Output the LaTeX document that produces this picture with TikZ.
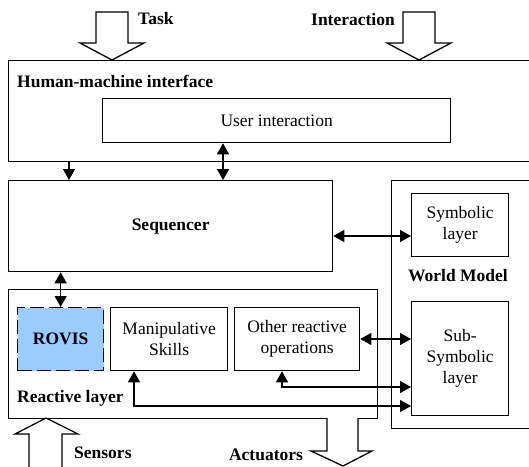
\documentclass[tikz,border=0pt]{standalone}
\usepackage{fontspec}
\setmainfont{Liberation Serif}
\usetikzlibrary{arrows.meta}
\definecolor{rovisblue}{RGB}{153,204,255}
\begin{document}
\begin{tikzpicture}[x=1pt,y=-1pt,
  font=\fontsize{17.5}{21}\selectfont,
  box/.style={draw, line width=1.3pt, anchor=north west, inner sep=0pt, align=center},
  lbl/.style={inner sep=0pt, font=\fontsize{17.5}{21}\selectfont\bfseries},
  conn/.style={line width=1.3pt, -{Triangle[length=11pt,width=12pt]}},
  dbl/.style={line width=1.3pt, {Triangle[length=11pt,width=12pt]}-{Triangle[length=11pt,width=12pt]}},
  blockarrow/.style={draw, fill=white, line width=1.3pt, line join=miter}]
\useasboundingbox (0,0) rectangle (529,466);
\clip (0,0) rectangle (529,466);

% main boxes
\node[box, minimum width=527pt, minimum height=101pt] (hmi) at (8,60) {};
\node[box, minimum width=348pt, minimum height=44pt] (ui) at (102,98) {User interaction};
\node[box, minimum width=324pt, minimum height=91pt, font=\fontsize{17.5}{21}\selectfont\bfseries] (seq) at (8,180) {Sequencer};
\node[box, minimum width=144pt, minimum height=248pt] (wm) at (391,180) {};
\node[box, minimum width=97pt, minimum height=63pt] (sym) at (411,193) {Symbolic\\layer};
\node[box, minimum width=97pt, minimum height=114pt] (sub) at (411,301) {Sub-\\Symbolic\\layer};
\node[box, minimum width=369pt, minimum height=129pt] (react) at (8,289) {};
\node[box, minimum width=86pt, minimum height=63pt, fill=rovisblue, dash pattern=on 14pt off 5pt, font=\fontsize{17.5}{21}\selectfont\bfseries] (rovis) at (17,307) {ROVIS};
\node[box, minimum width=117pt, minimum height=63pt] (manip) at (110,307) {Manipulative\\Skills};
\node[box, minimum width=125pt, minimum height=63pt] (other) at (234,307) {Other reactive\\operations};

% labels
\node[lbl, anchor=west] (hmil) at (17,81) {Human-machine interface};
\node[lbl] (wml) at (458,276) {World Model};
\node[lbl, anchor=west] (reactl) at (17,398) {Reactive layer};
\node[lbl, anchor=west] (taskl) at (138,19) {Task};
\node[lbl] (interl) at (353,20) {Interaction};
\node[lbl, anchor=west] (sensl) at (74,453) {Sensors};
\node[lbl] (actl) at (266,455) {Actuators};

% block arrows
\draw[blockarrow] (96,12) -- (128,12) -- (128,43) -- (144,43) -- (112,60) -- (80,43) -- (96,43) -- cycle;
\draw[blockarrow] (403,12) -- (435,12) -- (435,43) -- (451,43) -- (419,60) -- (387,43) -- (403,43) -- cycle;
\draw[blockarrow] (29,475) -- (29,434) -- (15,434) -- (46,418) -- (78,434) -- (62,434) -- (62,475);
\draw[blockarrow] (327,418) -- (327,451) -- (311,451) -- (343,466) -- (372,451) -- (358,451) -- (358,418);

% connectors
\draw[conn] (hmi.south -| 69,0) -- (seq.north -| 69,0);
\draw[dbl] (ui.south -| 223,0) -- (seq.north -| 223,0);
\draw[dbl] (seq.east |- 0,236) -- (sym.west |- 0,236);
\draw[dbl] (seq.south -| rovis.north) -- (rovis.north);
\draw[dbl] (other.east |- 0,339) -- (sub.west |- 0,339);
\draw[dbl] (other.south -| 282,0) |- (sub.west |- 0,387);
\draw[dbl] (manip.south -| 134,0) |- (sub.west |- 0,406);
\end{tikzpicture}
\end{document}
